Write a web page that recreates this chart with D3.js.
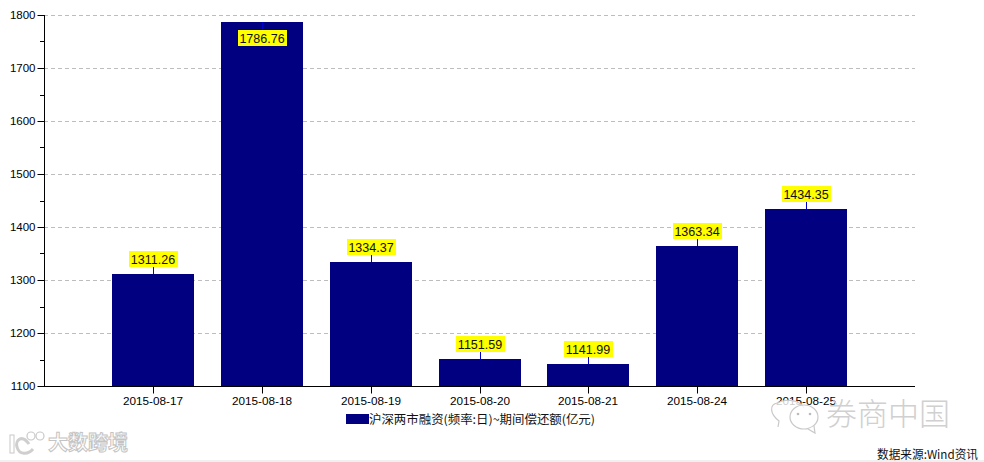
<!DOCTYPE html>
<html><head><meta charset="utf-8">
<script src="https://cdnjs.cloudflare.com/ajax/libs/d3/7.8.5/d3.min.js"></script>
<style>html,body{margin:0;padding:0;background:#fff}svg{display:block}</style>
</head><body><svg id="c" width="984" height="462"></svg>
<script>
const dates=["2015-08-17","2015-08-18","2015-08-19","2015-08-20","2015-08-21","2015-08-24","2015-08-25"];
const values=[1311.26,1786.76,1334.37,1151.59,1141.99,1363.34,1434.35];
const majorTicks=[1100,1200,1300,1400,1500,1600,1700,1800];
const minorTicks=[1150,1250,1350,1450,1550,1650,1750];
const legendLabel="沪深两市融资(频率:日)~期间偿还额(亿元)";
const sourceLabel="数据来源:Wind资讯";
const watermarkLeft="大数跨境";
const watermarkRight="券商中国";

const svg=d3.select("#c");
const L=44,R=915,T=15,B=386;
const cjk="'Noto Sans CJK SC','DejaVu Sans',sans-serif";
const tickFont="'Liberation Sans',sans-serif";
const y=d3.scaleLinear().domain([1100,1800]).range([B,T]);
const x=d3.scaleLinear().domain([-1,7]).range([L,R]);
const barW=82;

// bottom strip
svg.append("rect").attr("x",0).attr("y",460).attr("width",984).attr("height",2).attr("fill","#f0f0f0");

// grid
svg.append("g").selectAll("line").data(majorTicks.slice(1)).join("line")
  .attr("x1",L).attr("x2",R).attr("y1",d=>Math.round(y(d))+.5).attr("y2",d=>Math.round(y(d))+.5)
  .attr("stroke","#bdbdbd").attr("stroke-dasharray","4 3");

// bars
svg.append("g").selectAll("rect").data(values).join("rect")
  .attr("x",(d,i)=>Math.round(x(i)-barW/2)).attr("width",barW)
  .attr("y",d=>Math.round(y(d))).attr("height",d=>B-Math.round(y(d)))
  .attr("fill","#000080");

// y axis
const yAxis=d3.axisLeft(y).tickValues(majorTicks).tickSize(7).tickPadding(2).tickFormat(d3.format("d"));
const gy=svg.append("g").attr("transform",`translate(${L+.5},0)`).call(yAxis);
gy.select(".domain").attr("stroke","#000").attr("d",`M0,${T}V${B+1}`);
gy.selectAll("text").attr("font-family",tickFont).attr("font-size",11.5).attr("fill","#000");
gy.selectAll("line").attr("stroke","#000");
gy.selectAll(".tick").attr("transform",d=>`translate(0,${Math.round(y(d))+.5})`);
svg.append("g").selectAll("line").data(minorTicks).join("line")
  .attr("x1",40).attr("x2",L).attr("y1",d=>Math.round(y(d))+.5).attr("y2",d=>Math.round(y(d))+.5)
  .attr("stroke","#000");

// x axis
const gx=svg.append("g").attr("transform",`translate(0,${B+.5})`);
gx.append("line").attr("x1",L).attr("x2",R).attr("stroke","#000");
gx.selectAll("line.t").data(dates).join("line").attr("class","t")
  .attr("x1",(d,i)=>Math.round(x(i))+.5).attr("x2",(d,i)=>Math.round(x(i))+.5)
  .attr("y1",0).attr("y2",7).attr("stroke","#000");
gx.selectAll("text").data(dates).join("text")
  .attr("x",(d,i)=>Math.round(x(i))).attr("y",18).attr("text-anchor","middle")
  .attr("font-family",tickFont).attr("font-size",11).attr("fill","#000")
  .attr("textLength",60).attr("lengthAdjust","spacingAndGlyphs").text(d=>d);

// value labels
const boxW=49,boxH=16,gap=7;
const lab=svg.append("g");
values.forEach((v,i)=>{
  const cx=Math.round(x(i))+.5, top=Math.round(y(v));
  const above=top-gap-boxH>=T;
  const by=above?top-gap-boxH:top+gap+1;
  lab.append("line").attr("x1",cx).attr("x2",cx)
    .attr("y1",above?by+boxH:top).attr("y2",above?top:by)
    .attr("stroke","#0000c8");
  lab.append("rect").attr("x",cx-boxW/2).attr("y",by).attr("width",boxW).attr("height",boxH).attr("fill","#ffff00");
  lab.append("text").attr("x",cx-.5).attr("y",by+12.5).attr("text-anchor","middle")
    .attr("font-family","'Liberation Sans',sans-serif").attr("font-size",12.5).attr("fill","#111")
    .text(d3.format(".2f")(v));
});

// legend
svg.append("rect").attr("x",346).attr("y",414).attr("width",23).attr("height",10).attr("fill","#000080");
svg.append("text").attr("x",369).attr("y",424).attr("font-family",cjk).attr("font-size",12).attr("fill","#111")
  .attr("textLength",226).attr("lengthAdjust","spacingAndGlyphs").text(legendLabel);

// source
svg.append("text").attr("x",877).attr("y",459).attr("font-family",cjk).attr("font-size",12).attr("fill","#111")
  .attr("textLength",101).attr("lengthAdjust","spacingAndGlyphs").text(sourceLabel);

// watermarks
const wmL=svg.append("g");
wmL.append("text").attr("x",48).attr("y",450).attr("font-family",cjk).attr("font-size",20).attr("font-weight",700)
  .attr("fill","#fff").attr("stroke","#c4c4c4").attr("stroke-width",1).text(watermarkLeft);
wmL.append("rect").attr("x",10).attr("y",435).attr("width",4).attr("height",18)
  .attr("fill","#fff").attr("stroke","#c8c8c8").attr("stroke-width",1);
wmL.append("path").attr("d","M29,444 C22,434 15,440 17,447 C19,455 28,455 33,449")
  .attr("fill","none").attr("stroke","#cfcfcf").attr("stroke-width",3);
wmL.selectAll("circle").data([0,1]).join("circle").attr("cx",d=>31+d*9).attr("cy",436).attr("r",4)
  .attr("fill","#fff").attr("stroke","#c8c8c8").attr("stroke-width",1.2);

const wmR=svg.append("g").attr("fill","#fff").attr("fill-opacity",.8).attr("stroke","#c9c9c9").attr("stroke-width",1.2);
wmR.append("path").attr("d","M778,427 L779,421 C770,414 769,405 777,403 C786,398 800,400 804,408");
wmR.append("ellipse").attr("cx",804).attr("cy",417).attr("rx",14).attr("ry",12);
wmR.append("path").attr("d","M808,429 L815,433 L814,426");
svg.append("g").attr("fill","#bbb").selectAll("circle").data([798,810]).join("circle")
  .attr("cx",d=>d).attr("cy",414).attr("r",1.3);
svg.append("text").attr("x",826).attr("y",425).attr("font-family",cjk).attr("font-size",31).attr("fill","#d0d0d0")
  .attr("font-weight",300).text(watermarkRight);
</script></body></html>
